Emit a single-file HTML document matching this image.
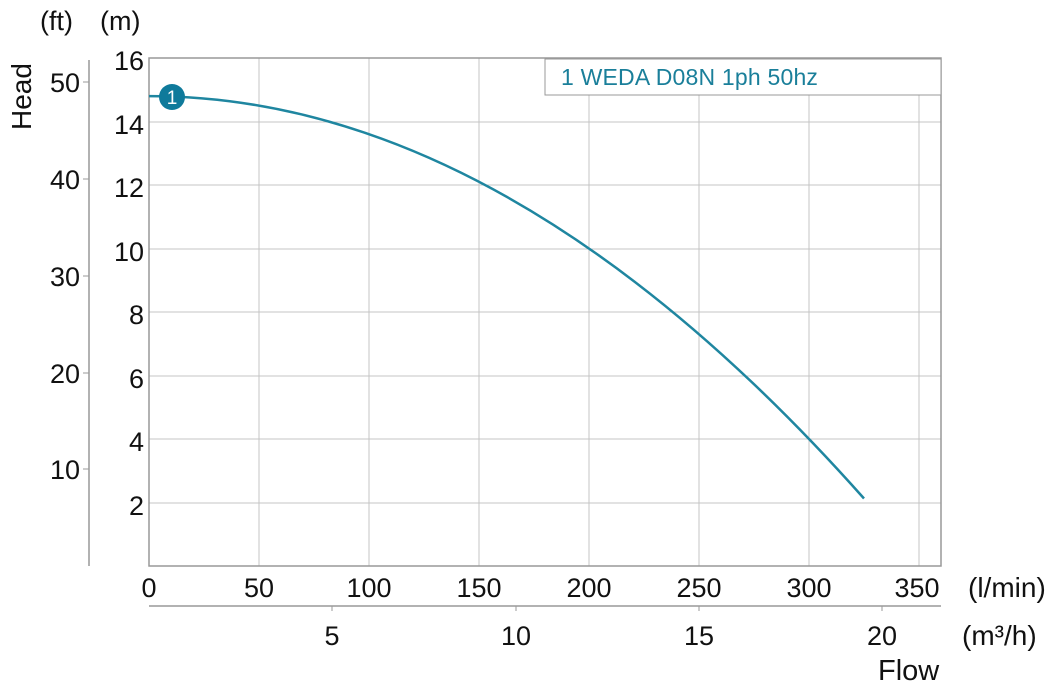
<!DOCTYPE html>
<html><head><style>
body{margin:0;background:#fff;}
svg text{font-family:"Liberation Sans",Arial,sans-serif;fill:#111;}
</style></head><body>
<svg width="1058" height="687" viewBox="0 0 1058 687" xmlns="http://www.w3.org/2000/svg">
<g stroke="#c4c4c4" stroke-width="1">
<line x1="259" y1="58" x2="259" y2="566"/><line x1="369" y1="58" x2="369" y2="566"/>
<line x1="479" y1="58" x2="479" y2="566"/><line x1="589" y1="58" x2="589" y2="566"/>
<line x1="699" y1="95" x2="699" y2="566"/><line x1="809" y1="95" x2="809" y2="566"/>
<line x1="919" y1="95" x2="919" y2="566"/>
<line x1="149" y1="122" x2="941" y2="122"/><line x1="149" y1="185" x2="941" y2="185"/>
<line x1="149" y1="249" x2="941" y2="249"/><line x1="149" y1="312" x2="941" y2="312"/>
<line x1="149" y1="376" x2="941" y2="376"/><line x1="149" y1="439" x2="941" y2="439"/>
<line x1="149" y1="503" x2="941" y2="503"/>
</g>
<rect x="149" y="58" width="792" height="508" fill="none" stroke="#999" stroke-width="1.5"/>
<rect x="545" y="59" width="396" height="36" fill="#fff" stroke="#999" stroke-width="1"/>
<text x="561" y="85" font-size="23" style="fill:#1a7f9a" letter-spacing="0.2">1 WEDA D08N 1ph 50hz</text>
<line x1="89" y1="60" x2="89" y2="566" stroke="#999" stroke-width="1.5"/>
<g stroke="#999"><line x1="83" y1="82" x2="89" y2="82"/><line x1="83" y1="179" x2="89" y2="179"/><line x1="83" y1="276" x2="89" y2="276"/><line x1="83" y1="373" x2="89" y2="373"/><line x1="83" y1="469" x2="89" y2="469"/></g>
<g font-size="27" text-anchor="end">
<text x="80" y="92">50</text><text x="80" y="189">40</text><text x="80" y="286">30</text><text x="80" y="383">20</text><text x="80" y="479">10</text>
<text x="144" y="70">16</text><text x="144" y="134">14</text><text x="144" y="197">12</text><text x="144" y="261">10</text>
<text x="144" y="324">8</text><text x="144" y="388">6</text><text x="144" y="451">4</text><text x="144" y="515">2</text>
</g>
<text x="40" y="30" font-size="27">(ft)</text><text x="100" y="30" font-size="27">(m)</text>
<text transform="translate(31,130) rotate(-90)" font-size="28">Head</text>
<g font-size="27" text-anchor="middle">
<text x="149" y="597">0</text><text x="259" y="597">50</text><text x="369" y="597">100</text><text x="479" y="597">150</text>
<text x="589" y="597">200</text><text x="699" y="597">250</text><text x="809" y="597">300</text><text x="917" y="597">350</text>
<text x="332" y="645">5</text><text x="516" y="645">10</text><text x="699" y="645">15</text><text x="882" y="645">20</text>
</g>
<text x="968" y="597" font-size="28">(l/min)</text>
<text x="962" y="645" font-size="28">(m³/h)</text>
<text x="878" y="680" font-size="29">Flow</text>
<line x1="149" y1="606" x2="941" y2="606" stroke="#999" stroke-width="1.5"/>
<g stroke="#999"><line x1="332" y1="606" x2="332" y2="611"/><line x1="516" y1="606" x2="516" y2="611"/><line x1="699" y1="606" x2="699" y2="611"/><line x1="882" y1="606" x2="882" y2="611"/></g>
<path d="M149,96.1 Q506.5,96.1 864,498.5" fill="none" stroke="#1f86a0" stroke-width="2.5"/>
<circle cx="172" cy="97" r="13" fill="#0f7a9b"/>
<text x="172" y="104" font-size="19" text-anchor="middle" style="fill:#fff">1</text>
</svg>
</body></html>
